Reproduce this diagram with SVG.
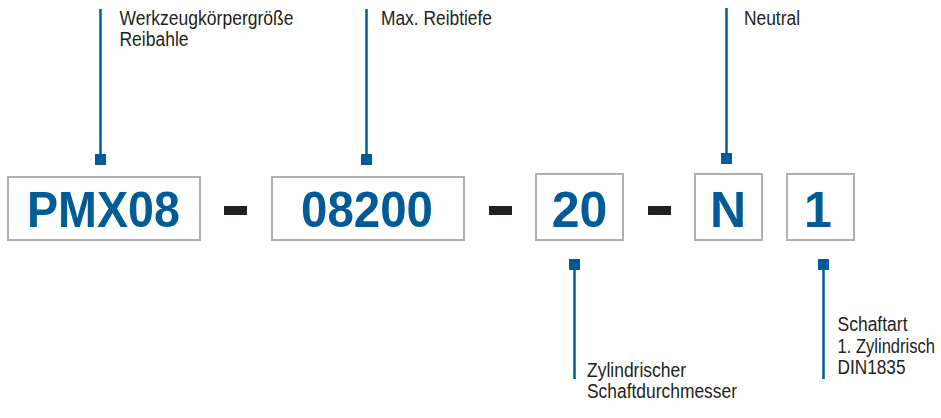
<svg xmlns="http://www.w3.org/2000/svg" width="941" height="418" viewBox="0 0 941 418">
<style>
.box{fill:#fff;stroke:#b0b0b4;stroke-width:2}
.code{font-family:"Liberation Sans",Arial,sans-serif;font-weight:bold;font-size:50px;fill:#005b96;text-anchor:middle}
.lbl{font-family:"Liberation Sans",Arial,sans-serif;font-size:19.5px;fill:#231f20}
.ln{stroke:#005b96;stroke-width:2.5;fill:none}
.mk{fill:#005b96}
.dash{fill:#231f20}
</style>
<rect width="941" height="418" fill="#fff"/>
<g id="node-pmx08">
<rect class="box" x="8" y="177" width="192" height="63"/>
<text class="code" x="103.5" y="226.5" textLength="153" lengthAdjust="spacingAndGlyphs">PMX08</text>
</g>
<g id="node-08200">
<rect class="box" x="272" y="177" width="192" height="63"/>
<text class="code" x="367" y="226.5" textLength="132" lengthAdjust="spacingAndGlyphs">08200</text>
</g>
<g id="node-20">
<rect class="box" x="536" y="174" width="87" height="66"/>
<text class="code" x="579.5" y="226.5">20</text>
</g>
<g id="node-n">
<rect class="box" x="695" y="174" width="67" height="66"/>
<text class="code" x="728" y="226.5">N</text>
</g>
<g id="node-1">
<rect class="box" x="787" y="174" width="67" height="66"/>
<text class="code" x="818" y="226.5">1</text>
</g>
<g id="dashes">
<rect class="dash" x="224" y="206" width="23" height="9"/>
<rect class="dash" x="489" y="206" width="23" height="9"/>
<rect class="dash" x="648" y="206" width="23" height="9"/>
</g>
<g id="connectors">
<line class="ln" x1="100.5" y1="9" x2="100.5" y2="155"/>
<rect class="mk" x="95" y="154" width="11" height="11"/>
<line class="ln" x1="366.5" y1="9" x2="366.5" y2="155"/>
<rect class="mk" x="361" y="154" width="11" height="11"/>
<line class="ln" x1="726.5" y1="8" x2="726.5" y2="154"/>
<rect class="mk" x="721" y="153" width="11" height="11"/>
<line class="ln" x1="574.5" y1="265" x2="574.5" y2="379"/>
<rect class="mk" x="569" y="259" width="11" height="11"/>
<line class="ln" x1="823.5" y1="265" x2="823.5" y2="379"/>
<rect class="mk" x="818" y="259" width="11" height="11"/>
</g>
<g id="labels">
<text class="lbl" x="119.5" y="24.5" textLength="174" lengthAdjust="spacingAndGlyphs">Werkzeugkörpergröße</text>
<text class="lbl" x="119.5" y="45.5" textLength="69" lengthAdjust="spacingAndGlyphs">Reibahle</text>
<text class="lbl" x="381" y="24.5" textLength="111" lengthAdjust="spacingAndGlyphs">Max. Reibtiefe</text>
<text class="lbl" x="744" y="24.5" textLength="56" lengthAdjust="spacingAndGlyphs">Neutral</text>
<text class="lbl" x="587" y="377" textLength="99" lengthAdjust="spacingAndGlyphs">Zylindrischer</text>
<text class="lbl" x="587" y="398" textLength="150" lengthAdjust="spacingAndGlyphs">Schaftdurchmesser</text>
<text class="lbl" x="837.5" y="331" textLength="70" lengthAdjust="spacingAndGlyphs">Schaftart</text>
<text class="lbl" transform="translate(837.5 352.5) scale(0.85 1)" x="0" y="0">1. Zylindrisch</text>
<text class="lbl" x="837.5" y="373.5" textLength="68" lengthAdjust="spacingAndGlyphs">DIN1835</text>
</g>
</svg>
